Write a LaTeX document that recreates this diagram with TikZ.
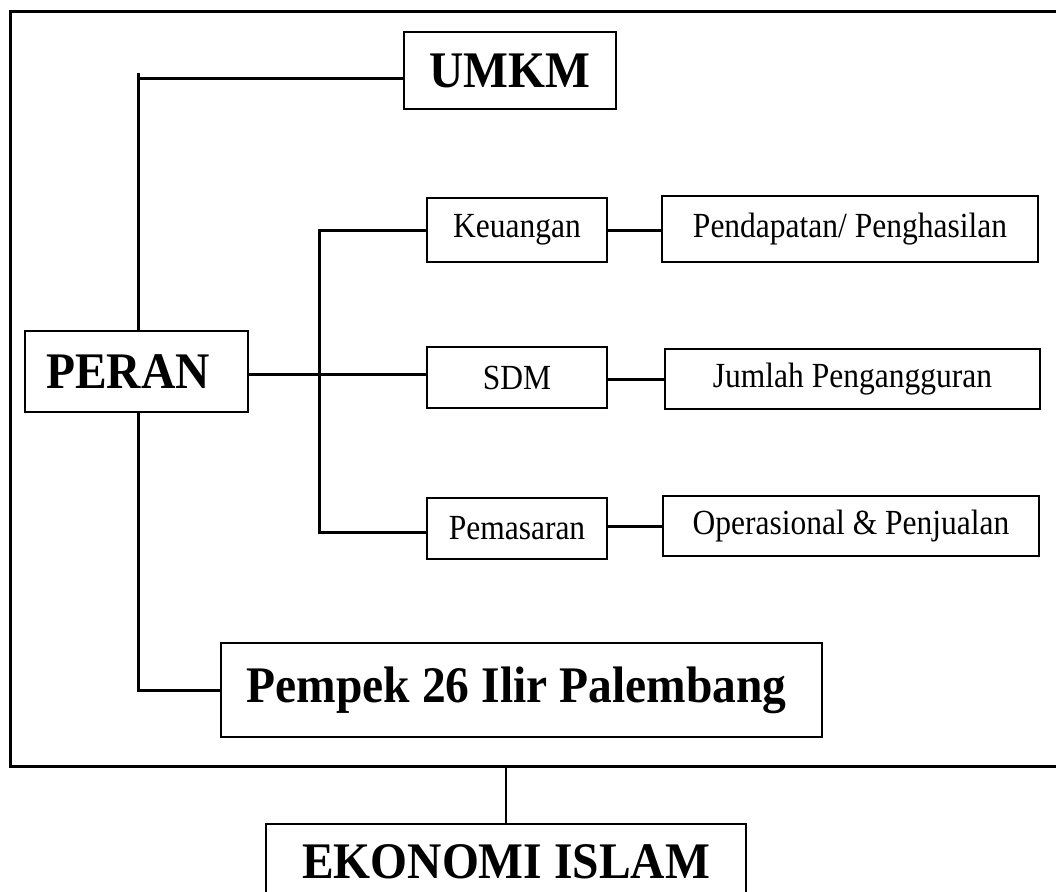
\documentclass[tikz,border=0pt]{standalone}
\usepackage{fontspec}
\setmainfont{Liberation Serif}
\newcommand{\bigst}[1]{\scalebox{1}[1.08]{#1}}
\newcommand{\smst}[1]{\scalebox{1}[1.12]{#1}}
\begin{document}
\begin{tikzpicture}[x=1pt,y=-1pt,
  box/.style={draw,line width=2pt,inner sep=0pt,anchor=center},
  bigtxt/.style={font=\fontsize{47.5}{50}\selectfont\bfseries},
  smalltxt/.style={font=\fontsize{31.5}{34}\selectfont},
  conn/.style={line width=3pt},
  frame/.style={line width=3pt}]
\useasboundingbox (0,0) rectangle (1056,891);
% outer frame
\draw[frame] (1060,12) -- (10,12) -- (10,766) -- (1060,766);
% nodes
\node[box,bigtxt,minimum width=212pt,minimum height=77pt] (umkm) at (510,70.5) {\bigst{UMKM}};
\node[box,bigtxt,minimum width=223pt,minimum height=81pt] (peran) at (136.5,371.5) {\hspace{-17pt}\bigst{PERAN}};
\node[box,smalltxt,minimum width=180pt,minimum height=64pt] (keu) at (517,230) {\smst{Keuangan}};
\node[box,smalltxt,minimum width=376pt,minimum height=66pt] (pend) at (850,229) {\smst{Pendapatan/ Penghasilan}};
\node[box,smalltxt,minimum width=180pt,minimum height=61pt] (sdm) at (517,377.5) {\smst{SDM}};
\node[box,smalltxt,minimum width=375pt,minimum height=60pt] (jum) at (852.5,379) {\smst{Jumlah Pengangguran}};
\node[box,smalltxt,minimum width=180pt,minimum height=61pt] (pem) at (517,528.5) {\smst{Pemasaran}};
\node[box,smalltxt,minimum width=376pt,minimum height=60pt] (ops) at (851,526) {\smst{Operasional \& Penjualan}};
\node[box,bigtxt,minimum width=601pt,minimum height=94pt] (pempek) at (521.5,690) {\hspace{-10pt}\bigst{Pempek 26 Ilir Palembang}};
\node[box,bigtxt,minimum width=480pt,minimum height=76pt] (eko) at (506,862) {\bigst{EKONOMI ISLAM}};
% helper coordinates
\coordinate (lbus) at (138,0);
\coordinate (rbus) at (319,0);
\coordinate (fb) at (506,766);
% connectors
\draw[conn] (peran.north -| lbus) -- ([yshift=-2pt]umkm.west -| lbus);
\draw[conn] ([yshift=-7.5pt]umkm.west -| lbus) -- ([yshift=-7.5pt]umkm.west);
\draw[conn] (peran.south -| lbus) |- (pempek.west);
\draw[conn] ([yshift=-2.5pt]peran.east) -- ([yshift=-2.5pt]peran.east -| sdm.west);
\draw[conn] (keu.west) -- (keu.west -| rbus) -- ([yshift=-3.5pt]pem.west -| rbus) -- ([yshift=-3.5pt]pem.west);
\draw[conn] (keu.east) -- (keu.east -| pend.west);
\draw[conn] ([yshift=-1.5pt]sdm.east) -- ([yshift=-1.5pt]sdm.east -| jum.west);
\draw[conn] ([yshift=2.5pt]pem.east) -- ([yshift=2.5pt]pem.east -| ops.west);
\draw[line width=2.5pt] (fb) -- (eko.north);
\end{tikzpicture}
\end{document}
